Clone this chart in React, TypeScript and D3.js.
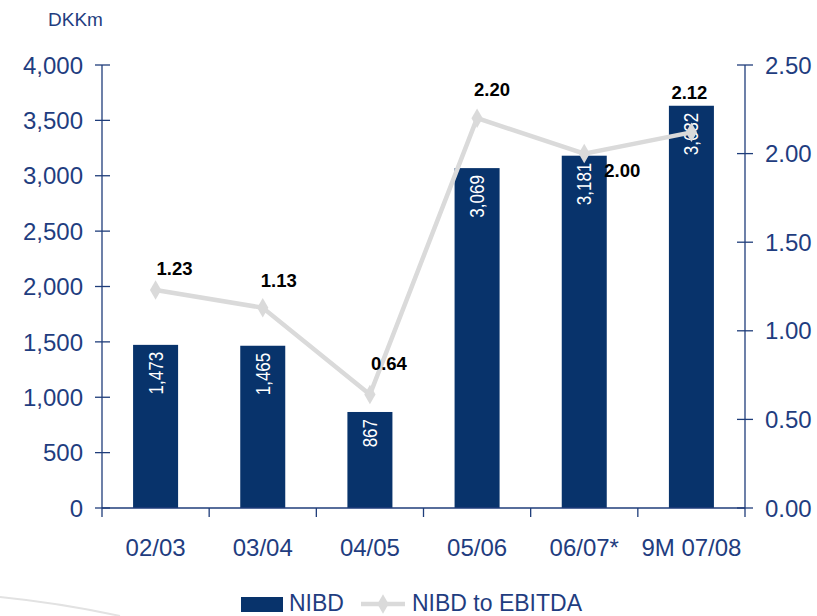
import React from 'react';
import * as d3 from 'd3';

// Chart data
const categories = ['02/03', '03/04', '04/05', '05/06', '06/07*', '9M 07/08'];
const nibd = [1473, 1465, 867, 3069, 3181, 3632];
const nibdToEbitda = [1.23, 1.13, 0.64, 2.2, 2.0, 2.12];
const leftTicks = [0, 500, 1000, 1500, 2000, 2500, 3000, 3500, 4000];
const rightTicks = [0, 0.5, 1.0, 1.5, 2.0, 2.5];

// label offsets relative to each ratio point (styling only)
const ratioLabelOffsets: [number, number][] = [
  [19, -15],
  [16, -21],
  [19, -25],
  [15, -22],
  [38, 23],
  [-2, -33],
];

const W = 817;
const H = 616;
const left = 102;
const right = 745;
const top = 65;
const bottom = 508;

const axisColor = '#1f3d7a';
const textColor = '#1f3d80';
const barColor = '#08336b';
const lineColor = '#dadada';
const font = 'Liberation Sans, Arial, sans-serif';

export default function App() {
  const x = d3.scaleBand<string>().domain(categories).range([left, right]).paddingInner(0.58).paddingOuter(0.29);
  const yL = d3.scaleLinear().domain([0, 4000]).range([bottom, top]);
  const yR = d3.scaleLinear().domain([0, 2.5]).range([bottom, top]);
  const fmt = d3.format(',');
  const cx = (c: string) => (x(c) ?? 0) + x.bandwidth() / 2;

  const line = d3
    .line<number>()
    .x((_, i) => cx(categories[i]))
    .y((d) => yR(d));

  const diamond = d3.symbol().type(d3.symbolDiamond).size(110)();
  const boundaries = d3.range(categories.length + 1).map((i) => left + i * x.step());

  return (
    <svg width={W} height={H} style={{ position: 'absolute', left: 0, top: 0, background: '#fff' }} fontFamily={font}>
      {/* decorative swoosh */}
      <path d="M0,597 Q60,603 120,616" fill="none" stroke="#e2e2e2" strokeWidth={2} />

      <text x={48} y={26} fontSize={19} fill={textColor}>DKKm</text>

      {/* left axis */}
      <line x1={left} x2={left} y1={top} y2={bottom} stroke={axisColor} strokeWidth={1.3} />
      {leftTicks.map((t) => (
        <g key={'l' + t}>
          <line x1={left - 7} x2={left + 8} y1={yL(t)} y2={yL(t)} stroke={axisColor} strokeWidth={1.3} />
          <text x={83} y={yL(t)} dy="0.36em" textAnchor="end" fontSize={24} fill={textColor}>
            {fmt(t)}
          </text>
        </g>
      ))}

      {/* right axis */}
      <line x1={right} x2={right} y1={top} y2={bottom} stroke={axisColor} strokeWidth={1.3} />
      {rightTicks.map((t) => (
        <g key={'r' + t}>
          <line x1={right - 8} x2={right + 8} y1={yR(t)} y2={yR(t)} stroke={axisColor} strokeWidth={1.3} />
          <text x={765} y={yR(t)} dy="0.36em" fontSize={24} fill={textColor}>
            {t.toFixed(2)}
          </text>
        </g>
      ))}

      {/* bars */}
      {nibd.map((v, i) => (
        <rect key={'b' + i} x={x(categories[i])} y={yL(v)} width={x.bandwidth()} height={bottom - yL(v)} fill={barColor} />
      ))}

      {/* x axis */}
      <line x1={left} x2={right} y1={bottom} y2={bottom} stroke={axisColor} strokeWidth={1.3} />
      {boundaries.map((bx, i) => (
        <line key={'xt' + i} x1={bx} x2={bx} y1={bottom} y2={bottom + 9} stroke={axisColor} strokeWidth={1.3} />
      ))}
      {categories.map((c) => (
        <text key={'xl' + c} x={cx(c)} y={556} textAnchor="middle" fontSize={24} fill={textColor}>
          {c}
        </text>
      ))}

      {/* bar value labels */}
      {nibd.map((v, i) => (
        <text
          key={'bl' + i}
          transform={`translate(${cx(categories[i]) + 7},${yL(v) + 7}) rotate(-90) scale(0.85,1)`}
          textAnchor="end"
          fontSize={20}
          fill="#fff"
        >
          {fmt(v)}
        </text>
      ))}

      {/* ratio line */}
      <path d={line(nibdToEbitda) ?? ''} fill="none" stroke={lineColor} strokeWidth={4.5} />
      {nibdToEbitda.map((v, i) => (
        <path key={'m' + i} d={diamond ?? ''} transform={`translate(${cx(categories[i])},${yR(v)})`} fill={lineColor} />
      ))}
      {nibdToEbitda.map((v, i) => (
        <text
          key={'rl' + i}
          x={cx(categories[i]) + ratioLabelOffsets[i][0]}
          y={yR(v) + ratioLabelOffsets[i][1]}
          textAnchor="middle"
          fontSize={18.5}
          fontWeight="bold"
          fill="#000"
        >
          {v.toFixed(2)}
        </text>
      ))}

      {/* legend */}
      <rect x={241} y={597} width={42} height={15} fill={barColor} />
      <text x={289} y={611} fontSize={23} fill={textColor}>NIBD</text>
      <line x1={361} x2={405} y1={604} y2={604} stroke={lineColor} strokeWidth={4.5} />
      <path d={diamond ?? ''} transform="translate(383,604)" fill={lineColor} />
      <text x={412} y={611} fontSize={23} fill={textColor}>NIBD to EBITDA</text>
    </svg>
  );
}
